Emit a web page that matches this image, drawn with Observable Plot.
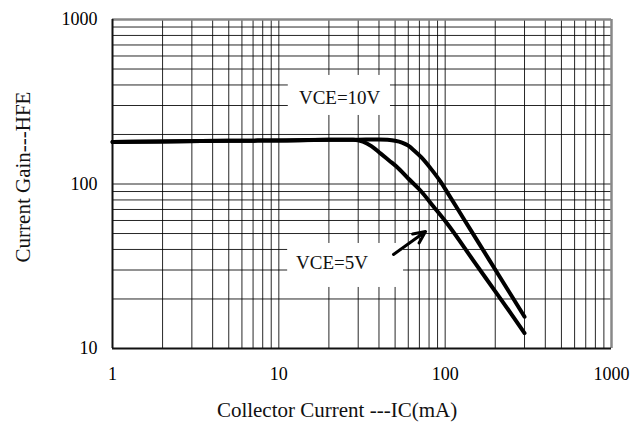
<!DOCTYPE html>
<html>
<head>
<meta charset="utf-8">
<script src="https://cdn.jsdelivr.net/npm/d3@7"></script>
<script src="https://cdn.jsdelivr.net/npm/@observablehq/plot@0.6"></script>
<style>
  html, body { margin: 0; padding: 0; background: #fff; }
  #chart svg { display: block; }
</style>
</head>
<body>
<div id="chart"></div>
<script>
// ---- data ----
const xTicks = [1, 10, 100, 1000];
const yTicks = [10, 100, 1000];
const xGrid = [2, 3, 4, 5, 6, 7, 8, 9, 10, 20, 30, 40, 50, 60, 70, 80, 90, 100, 200, 300, 400, 500, 600, 700, 800, 900];
const yGrid = [20, 30, 40, 50, 60, 70, 80, 90, 100, 200, 300, 400, 500, 600, 700, 800, 900];

const ic10 = [1, 2, 5, 10, 20, 30, 40, 45, 50, 55, 60, 65, 72, 82, 94, 103, 130, 160, 210, 250, 300];
const hfe10 = [180, 181.5, 183, 184, 185.5, 186, 186.5, 185.5, 183, 178.5, 171, 160, 145, 124, 103, 89, 60.9, 43.4, 27.9, 21.0, 15.6];

const ic5 = [1, 2, 5, 10, 20, 28, 32, 36, 41, 46, 51.5, 60, 71, 85, 103, 150, 205, 250, 300];
const hfe5 = [180, 181.5, 183, 184, 185.5, 185.5, 181, 170, 153, 139, 126.5, 108, 91.3, 73, 57.3, 33.5, 21.5, 16.2, 12.4];

const seriesNames = ["VCE=10V", "VCE=5V"];
const xTitle = "Collector Current ---IC(mA)";
const yTitle = "Current Gain---HFE";

// annotation placement (data space)
const labelText = ["VCE=10V", "VCE=5V"];
const labelX = [23.2, 20.9];
const labelY = [336, 33.3];
const boxX1 = [11.4, 11.3];
const boxX2 = [46.9, 56.2];
const boxY1 = [261, 23.5];
const boxY2 = [457, 43.5];
const arrowFrom = [48.9, 37.3];
const arrowTo = [76.2, 51.4];

// ---- build tables ----
const curves = [
  ...ic10.map((x, i) => ({series: seriesNames[0], x, y: hfe10[i]})),
  ...ic5.map((x, i) => ({series: seriesNames[1], x, y: hfe5[i]}))
];
const labels = labelText.map((t, i) => ({t, x: labelX[i], y: labelY[i], x1: boxX1[i], x2: boxX2[i], y1: boxY1[i], y2: boxY2[i]}));
const arrows = [{x1: arrowFrom[0], y1: arrowFrom[1], x2: arrowTo[0], y2: arrowTo[1]}];

const FONT = "'Liberation Serif', 'Times New Roman', serif";

const chart = Plot.plot({
  width: 635,
  height: 430,
  marginTop: 19,
  marginRight: 24,
  marginBottom: 82,
  marginLeft: 112,
  style: {fontFamily: FONT, background: "#fff", color: "#000"},
  x: {type: "log", domain: [1, 1000]},
  y: {type: "log", domain: [10, 1000]},
  marks: [
    Plot.ruleX(xGrid, {stroke: "#000", strokeWidth: 1, strokeOpacity: 0.85}),
    Plot.ruleY(yGrid, {stroke: "#000", strokeWidth: 1, strokeOpacity: 0.85}),
    Plot.rect(labels, {x1: "x1", x2: "x2", y1: "y1", y2: "y2", fill: "#fff"}),
    Plot.ruleX([1000], {stroke: "#888", strokeWidth: 2.5}),
    Plot.ruleY([1000], {stroke: "#888", strokeWidth: 2.5}),
    Plot.ruleX([1], {stroke: "#111", strokeWidth: 2}),
    Plot.ruleY([10], {stroke: "#111", strokeWidth: 2}),
    Plot.line(curves, {x: "x", y: "y", z: "series", stroke: "#000", strokeWidth: 4, curve: "monotone-x", strokeLinecap: "round", strokeLinejoin: "round"}),
    Plot.text(labels, {x: "x", y: "y", text: "t", fontSize: 19, fill: "#111"}),
    Plot.arrow(arrows, {x1: "x1", y1: "y1", x2: "x2", y2: "y2", stroke: "#000", strokeWidth: 3, headLength: 12, headAngle: 50}),
    Plot.axisX(xTicks, {tickSize: 0, tickPadding: 19, fontSize: 18, tickFormat: d => String(d), label: null}),
    Plot.axisY(yTicks, {tickSize: 0, tickPadding: 15, fontSize: 18, tickFormat: d => String(d), label: null}),
    Plot.text([xTitle], {frameAnchor: "bottom", dy: 68, dx: -25, fontSize: 21, fill: "#111"}),
    Plot.text([yTitle], {frameAnchor: "left", textAnchor: "middle", lineAnchor: "middle", dx: -89, dy: -7, rotate: -90, fontSize: 21, fill: "#111"})
  ]
});
document.getElementById("chart").appendChild(chart);
</script>
</body>
</html>
